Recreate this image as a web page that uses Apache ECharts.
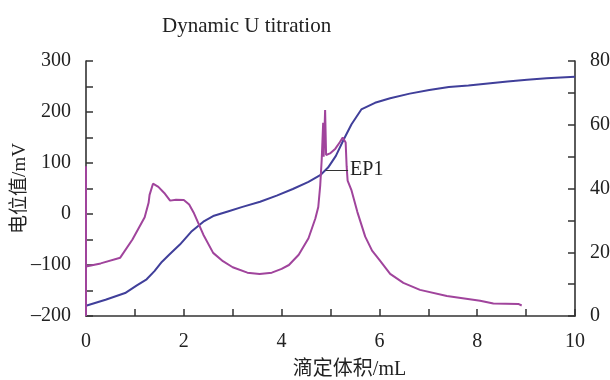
<!DOCTYPE html>
<html>
<head>
<meta charset="utf-8">
<script src="https://cdn.jsdelivr.net/npm/echarts@6/dist/echarts.min.js"></script>
<style>html,body{margin:0;padding:0;background:#fff}#c{width:610px;height:380px}</style>
</head>
<body>
<div id="c"></div>
<script>
// Potential curve (left axis, mV)
var potVolume = [0,0.4,0.8,1.04,1.24,1.4,1.55,1.7,1.92,2.15,2.4,2.6,2.9,3.2,3.56,3.9,4.23,4.55,4.79,4.95,5.11,5.27,5.43,5.63,5.91,6.22,6.62,7.02,7.42,7.82,8.22,8.62,9.02,9.42,10];
var potential = [-180,-168,-155,-140,-128,-112,-94,-80,-60,-35,-15,-4,5,14,24,36,49,63,76,91,114,146,176,205,218,227,236,243,249,252,256,260,263,266,269];
// Derivative curve (right axis)
var dVolume = [0,0,0,0.3,0.7,0.95,1.2,1.28,1.3,1.37,1.48,1.6,1.72,1.84,2.0,2.11,2.2,2.4,2.6,2.8,3.0,3.3,3.55,3.8,4.0,4.15,4.35,4.55,4.69,4.75,4.79,4.82,4.84,4.85,4.86,4.88,4.89,4.91,4.99,5.1,5.19,5.25,5.31,5.33,5.35,5.43,5.55,5.71,5.85,6.0,6.22,6.49,6.83,7.38,8.06,8.33,8.84,8.91];
var derivative = [0,47,15.5,16.5,18.3,24,31,35.5,38,41.5,40.5,38.6,36.2,36.5,36.4,35,32.5,25.5,19.8,17.2,15.3,13.6,13.2,13.6,14.8,16,19.2,24.4,30.6,34.2,41,49,49,60.6,50,50,64.6,50.5,51,52.5,54.5,56,54.4,47,42.5,39.4,32.6,24.9,20.5,17.6,13.2,10.4,8.2,6.3,4.8,3.9,3.8,3.3];
// Endpoint annotation
var epLabel = 'EP1';
var epStart = [4.9, 86];
var epEnd = [5.36, 86];
var leftTicks = {min: -200, max: 300, step: 50, labelStep: 100};
var rightTicks = {min: 0, max: 80, step: 10, labelStep: 20};
var xTicks = {min: 0, max: 10, step: 1, labelStep: 2};

function zip(a, b) { return a.map(function (v, i) { return [v, b[i]]; }); }
var serif = 'Liberation Serif, Times New Roman, serif';
var lab = {fontFamily: serif, fontSize: 20, color: '#222'};
function fmt(step) {
  return function (v) {
    if (Math.round(v) % step !== 0) return '';
    return v < 0 ? '\u2013' + Math.abs(v) : String(v);
  };
}
var axisLine = {show: true, onZero: false, lineStyle: {color: '#333', width: 1.6}};

var chart = echarts.init(document.getElementById('c'), null, {renderer: 'canvas'});
chart.setOption({
  animation: false,
  backgroundColor: '#fff',
  title: {
    text: 'Dynamic U titration', left: 157, top: 11,
    textStyle: {fontFamily: serif, fontSize: 21, fontWeight: 'normal', color: '#222'}
  },
  grid: {left: 86, right: 35, top: 61, bottom: 64, containLabel: false, outerBoundsMode: 'none'},
  xAxis: {
    type: 'value', min: xTicks.min, max: xTicks.max, interval: xTicks.step,
    axisLine: axisLine,
    axisTick: {inside: true, length: 7, lineStyle: {color: '#333', width: 1.5}},
    axisLabel: Object.assign({margin: 16, formatter: fmt(xTicks.labelStep)}, lab),
    splitLine: {show: false},
    name: '滴定体积/mL', nameLocation: 'middle', nameGap: 44,
    nameTextStyle: {fontFamily: 'Liberation Serif, Noto Sans CJK SC', fontSize: 20, color: '#222', padding: [0, 0, 0, 38]}
  },
  yAxis: [{
    type: 'value', min: leftTicks.min, max: leftTicks.max, interval: leftTicks.step,
    axisLine: axisLine,
    axisTick: {inside: true, length: 7, lineStyle: {color: '#333', width: 1.5}},
    axisLabel: Object.assign({margin: 15, formatter: fmt(leftTicks.labelStep)}, lab),
    splitLine: {show: false},
    name: '电位值/mV', nameLocation: 'middle', nameGap: 56, nameMoveOverlap: false,
    nameTextStyle: {fontFamily: 'Liberation Serif, Noto Sans CJK SC', fontSize: 19, color: '#222'}
  }, {
    type: 'value', position: 'right', min: rightTicks.min, max: rightTicks.max, interval: rightTicks.step,
    axisLine: axisLine,
    axisTick: {inside: true, length: 7, lineStyle: {color: '#333', width: 1.5}},
    axisLabel: Object.assign({margin: 15, formatter: fmt(rightTicks.labelStep)}, lab),
    splitLine: {show: false}
  }],
  series: [{
    type: 'line', yAxisIndex: 0, data: zip(potVolume, potential), showSymbol: false, symbol: 'none',
    lineStyle: {color: '#403f9a', width: 2}, z: 3,
    markLine: {
      silent: true, symbol: 'none',
      lineStyle: {color: '#333', width: 1, type: 'solid'},
      label: {show: true, position: 'end', formatter: epLabel, fontFamily: serif, fontSize: 20, color: '#222', distance: 2},
      data: [[{coord: epStart}, {coord: epEnd}]]
    }
  }, {
    type: 'line', yAxisIndex: 1, data: zip(dVolume, derivative), showSymbol: false, symbol: 'none',
    lineStyle: {color: '#a0449c', width: 2}, z: 4
  }]
});
</script>
</body>
</html>
